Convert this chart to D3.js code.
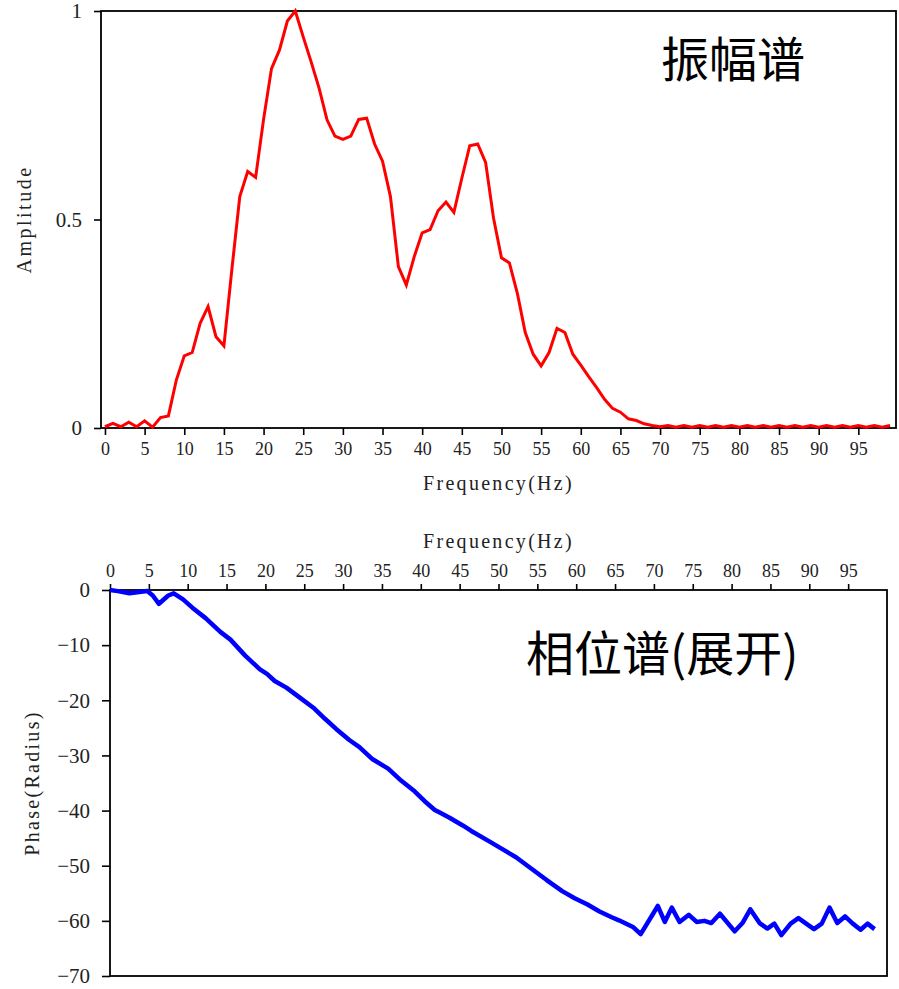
<!DOCTYPE html>
<html lang="zh">
<head>
<meta charset="UTF-8">
<title>振幅谱 / 相位谱</title>
<script src="https://d3js.org/d3.v7.min.js"></script>
<style>
  body { margin: 0; background: #fff; }
  svg { display: block; }
</style>
</head>
<body>
<div id="chart"></div>
<script>
// amplitude spectrum, one sample per Hz (0..99 Hz)
const ampFreq = d3.range(0, 100);
const ampValues = [
  0.003, 0.011, 0.003, 0.014, 0.003, 0.017, 0.002, 0.025, 0.029, 0.115,
  0.173, 0.181, 0.251, 0.291, 0.219, 0.197, 0.380, 0.555, 0.615, 0.601,
  0.740, 0.862, 0.906, 0.976, 1.000, 0.938, 0.878, 0.815, 0.739, 0.700,
  0.692, 0.700, 0.740, 0.743, 0.681, 0.640, 0.555, 0.387, 0.343, 0.411,
  0.468, 0.476, 0.521, 0.542, 0.517, 0.599, 0.677, 0.681, 0.637, 0.503,
  0.408, 0.396, 0.323, 0.229, 0.177, 0.149, 0.181, 0.239, 0.229, 0.177,
  0.151, 0.123, 0.097, 0.069, 0.047, 0.038, 0.022, 0.018, 0.010, 0.006,
  0.003, 0.006, 0.002, 0.006, 0.002, 0.006, 0.002, 0.006, 0.002, 0.006,
  0.002, 0.006, 0.002, 0.006, 0.002, 0.006, 0.002, 0.006, 0.002, 0.006,
  0.002, 0.006, 0.002, 0.006, 0.002, 0.006, 0.002, 0.006, 0.002, 0.006
];

// unwrapped phase, read at the visible vertices
const phaseFreq = [
  0, 1, 2.5, 3.5, 4.8, 5.5, 6.3, 7.5, 8.2, 9.4,
  10.6, 12.3, 14.2, 15.5, 17.4, 19.3, 20.2, 21.2, 22.7, 24.6,
  26.3, 27.7, 29.1, 30.8, 32.1, 33.8, 35.8, 37.5, 39.2, 40.5,
  41.8, 42.5, 43.7, 45.4, 46.5, 48.7, 50.5, 52.3, 54.2, 56.2,
  58.2, 59.8, 61.4, 63.0, 64.5, 65.5, 67.3, 68.3, 70.5, 71.4,
  72.3, 73.3, 74.5, 75.5, 76.5, 77.4, 78.5, 80.4, 81.4, 82.4,
  83.6, 84.6, 85.5, 86.4, 87.6, 88.6, 89.6, 90.6, 91.6, 92.6,
  93.6, 94.6, 95.6, 96.6, 97.5, 98.4
];
const phaseValues = [
  0, -0.2, -0.6, -0.4, -0.2, -1.0, -2.5, -1.0, -0.6, -1.7,
  -3.2, -5.1, -7.6, -9.0, -11.9, -14.4, -15.2, -16.5, -17.7, -19.7,
  -21.5, -23.4, -25.2, -27.2, -28.5, -30.7, -32.4, -34.6, -36.5, -38.3,
  -39.9, -40.4, -41.3, -42.7, -43.7, -45.5, -47.0, -48.5, -50.5, -52.6,
  -54.6, -55.9, -57.0, -58.3, -59.3, -59.9, -61.1, -62.4, -57.3, -60.2,
  -57.6, -60.2, -58.9, -60.2, -60.0, -60.4, -58.7, -61.9, -60.4, -57.9,
  -60.4, -61.4, -60.5, -62.6, -60.5, -59.5, -60.5, -61.5, -60.5, -57.6,
  -60.4, -59.2, -60.5, -61.6, -60.5, -61.5
];

const freqTicks = [0, 5, 10, 15, 20, 25, 30, 35, 40, 45, 50, 55, 60, 65, 70, 75, 80, 85, 90, 95];
const ampTicks = [0, 0.5, 1];
const phaseTicks = [0, -10, -20, -30, -40, -50, -60, -70];

const w = 899, h = 989;
const serif = "'Liberation Serif', 'DejaVu Serif', serif";
const cjk = "'Noto Sans CJK SC', sans-serif";

const svg = d3.select("#chart").append("svg")
    .attr("width", w)
    .attr("height", h);

function styleAxis(g, size) {
    g.select(".domain").remove();
    g.selectAll(".tick line").attr("stroke", "#000").attr("stroke-width", 1.6);
    g.selectAll(".tick text")
        .attr("font-family", serif)
        .attr("font-size", size)
        .attr("fill", "#222");
}

// ---------- amplitude ----------
const a = {left: 101, right: 896, top: 11, bottom: 428};
const xA = d3.scaleLinear().domain([-0.5, 99.75]).range([a.left, a.right]);
const yA = d3.scaleLinear().domain([0, 1]).range([a.bottom, a.top]);

svg.append("g")
    .attr("transform", "translate(0," + a.bottom + ")")
    .call(d3.axisBottom(xA).tickValues(freqTicks).tickSize(7).tickPadding(7).tickSizeOuter(0))
    .call(g => styleAxis(g, 18));

svg.append("g")
    .attr("transform", "translate(" + a.left + ",0)")
    .call(d3.axisLeft(yA).tickValues(ampTicks).tickFormat(d => String(d)).tickSize(7).tickPadding(12).tickSizeOuter(0))
    .call(g => styleAxis(g, 21));

svg.append("rect")
    .attr("x", a.left).attr("y", a.top)
    .attr("width", a.right - a.left).attr("height", a.bottom - a.top)
    .attr("fill", "none").attr("stroke", "#000").attr("stroke-width", 1.8);

svg.append("path")
    .datum(ampValues)
    .attr("fill", "none")
    .attr("stroke", "#ff0000")
    .attr("stroke-width", 3)
    .attr("d", d3.line().x((d, i) => xA(ampFreq[i])).y(d => yA(d)));

svg.append("text")
    .attr("x", (a.left + a.right) / 2).attr("y", 490)
    .attr("text-anchor", "middle")
    .attr("font-family", serif).attr("font-size", 20)
    .attr("letter-spacing", 2.3).attr("fill", "#222")
    .text("Frequency(Hz)");

svg.append("text")
    .attr("transform", "translate(31," + (a.top + a.bottom) / 2 + ") rotate(-90)")
    .attr("text-anchor", "middle")
    .attr("font-family", serif).attr("font-size", 20)
    .attr("letter-spacing", 2.5).attr("fill", "#222")
    .text("Amplitude");

svg.append("text")
    .attr("x", 661).attr("y", 77)
    .attr("font-family", cjk).attr("font-size", 48).attr("fill", "#000")
    .text("振幅谱");

// ---------- phase ----------
const p = {left: 110, right: 887, top: 590, bottom: 976};
const xP = d3.scaleLinear().domain([0, 100]).range([p.left, p.right]);
const yP = d3.scaleLinear().domain([-70, 0]).range([p.bottom, p.top]);

svg.append("g")
    .attr("transform", "translate(0," + p.top + ")")
    .call(d3.axisTop(xP).tickValues(freqTicks).tickSize(6).tickPadding(7).tickSizeOuter(0))
    .call(g => styleAxis(g, 18));

svg.append("g")
    .attr("transform", "translate(" + p.left + ",0)")
    .call(d3.axisLeft(yP).tickValues(phaseTicks).tickSize(8).tickPadding(12).tickSizeOuter(0))
    .call(g => styleAxis(g, 21));

svg.append("rect")
    .attr("x", p.left).attr("y", p.top)
    .attr("width", p.right - p.left).attr("height", p.bottom - p.top)
    .attr("fill", "none").attr("stroke", "#000").attr("stroke-width", 1.8);

svg.append("path")
    .datum(phaseValues)
    .attr("fill", "none")
    .attr("stroke", "#0000ff")
    .attr("stroke-width", 4.5)
    .attr("stroke-linejoin", "round")
    .attr("d", d3.line().x((d, i) => xP(phaseFreq[i])).y(d => yP(d)));

svg.append("text")
    .attr("x", (p.left + p.right) / 2).attr("y", 548)
    .attr("text-anchor", "middle")
    .attr("font-family", serif).attr("font-size", 20)
    .attr("letter-spacing", 2.3).attr("fill", "#222")
    .text("Frequency(Hz)");

svg.append("text")
    .attr("transform", "translate(39," + (p.top + p.bottom) / 2 + ") rotate(-90)")
    .attr("text-anchor", "middle")
    .attr("font-family", serif).attr("font-size", 20)
    .attr("letter-spacing", 2.3).attr("fill", "#222")
    .text("Phase(Radius)");

svg.append("text")
    .attr("x", 526).attr("y", 671)
    .attr("font-family", cjk).attr("font-size", 48).attr("fill", "#000")
    .text("相位谱(展开)");
</script>
</body>
</html>
